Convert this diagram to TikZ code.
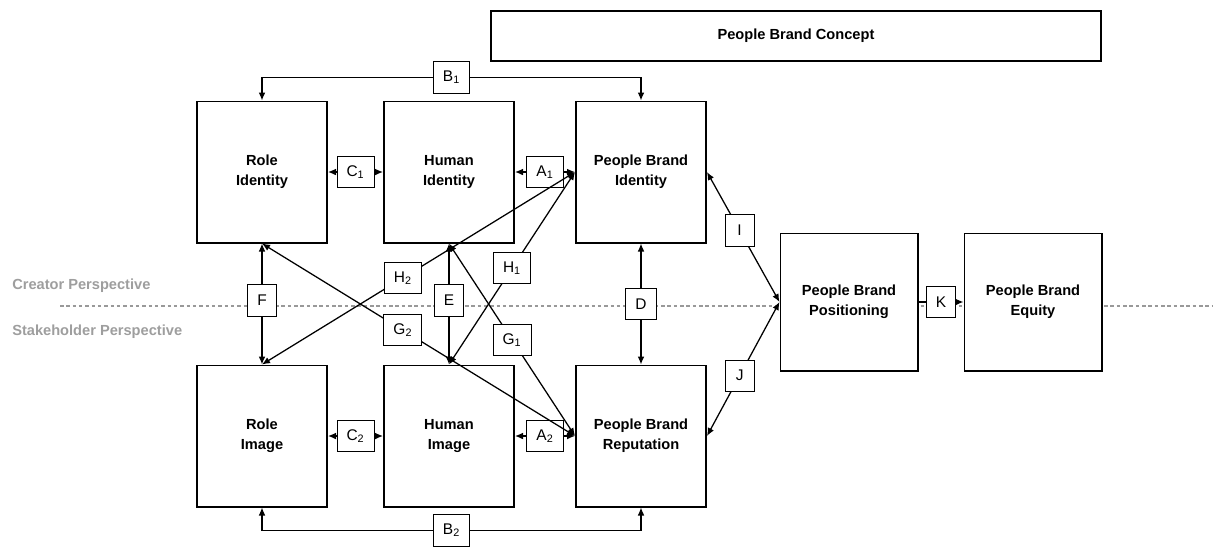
\documentclass[tikz,border=0pt]{standalone}
\usepackage{fontspec}
\setmainfont{Liberation Sans}
\usetikzlibrary{arrows.meta}

\begin{document}
\begin{tikzpicture}[x=0.025cm, y=-0.025cm, font=\fontsize{10.4}{14.5}\selectfont,
  block/.style={draw, line width=1.4pt, fill=white, minimum width=3.25cm, minimum height=3.525cm, align=center, font=\fontsize{10.4}{14.5}\selectfont\bfseries},
  lbl/.style={draw, line width=0.6pt, fill=white, minimum width=0.72cm, minimum height=0.78cm, inner xsep=0.24cm, inner ysep=0pt, font=\fontsize{11}{13}\selectfont},
  link/.style={line width=0.9pt, {Latex[length=2mm,width=1.7mm]}-{Latex[length=2mm,width=1.7mm]}},
  persp/.style={anchor=west, inner sep=0pt, text=black!38, font=\fontsize{10.4}{12}\selectfont\bfseries}]

\useasboundingbox (0,0) rectangle (1219,554);

% creator / stakeholder divide
\draw[black!40, line width=0.9pt, dash pattern=on 2.5pt off 2pt] (60,306) -- (1212,306);
\node[persp] (creator) at (12,286) {Creator Perspective};
\node[persp] (stake) at (12,332) {Stakeholder Perspective};

\node[block, minimum width=15.25cm, minimum height=1.25cm, line width=1.1pt] (concept) at (796,36) {People Brand Concept};

\node[block] (roleid) at (262,172) {Role\\Identity};
\node[block] (humid) at (449,172) {Human\\Identity};
\node[block] (pbid) at (641,172) {People Brand\\Identity};
\node[block] (roleim) at (262,436) {Role\\Image};
\node[block] (humim) at (449,436) {Human\\Image};
\node[block] (pbrep) at (641,436) {People Brand\\Reputation};
\node[block, minimum width=3.425cm, minimum height=3.425cm] (pos) at (849,302) {People Brand\\Positioning};
\node[block, minimum width=3.425cm, minimum height=3.425cm] (equity) at (1033,302) {People Brand\\Equity};

% horizontal links
\draw[link] (roleid) -- node[lbl] (c1) {C\textsubscript{1}} (humid);
\draw[link] (humid) -- node[lbl] (a1) {A\textsubscript{1}} (pbid);
\draw[link] (roleim) -- node[lbl] (c2) {C\textsubscript{2}} (humim);
\draw[link] (humim) -- node[lbl] (a2) {A\textsubscript{2}} (pbrep);

% vertical links
\draw[link] (roleid) -- node[lbl, pos=0.47] (f) {F} (roleim);
\draw[link] (humid) -- node[lbl, pos=0.47] (e) {E} (humim);
\draw[link] (pbid) -- node[lbl] (d) {D} (pbrep);

% cross links
\draw[link] (roleim.north) -- node[lbl, pos=0.45] (h2) {H\textsubscript{2}} (pbid.west);
\draw[link] (roleid.south) -- node[lbl, pos=0.45] (g2) {G\textsubscript{2}} (pbrep.west);
\draw[link] (humim.north) -- node[lbl] (h1) {H\textsubscript{1}} (pbid.west);
\draw[link] (humid.south) -- node[lbl] (g1) {G\textsubscript{1}} (pbrep.west);

% outer loops
\draw[link] (roleid.north) -- ++(0,-23) -| node[lbl, pos=0.25] (b1) {B\textsubscript{1}} (pbid.north);
\draw[link] (roleim.south) -- ++(0,23) -| node[lbl, pos=0.25] (b2) {B\textsubscript{2}} (pbrep.south);

% towards positioning and equity
\draw[link] (pbid.east) -- node[lbl, pos=0.45] (i) {I} (pos.west);
\draw[link] (pbrep.east) -- node[lbl, pos=0.45] (j) {J} (pos.west);
\draw[line width=0.9pt, -{Latex[length=2mm,width=1.7mm]}] (pos) -- node[lbl] (k) {K} (equity);
\end{tikzpicture}
\end{document}
